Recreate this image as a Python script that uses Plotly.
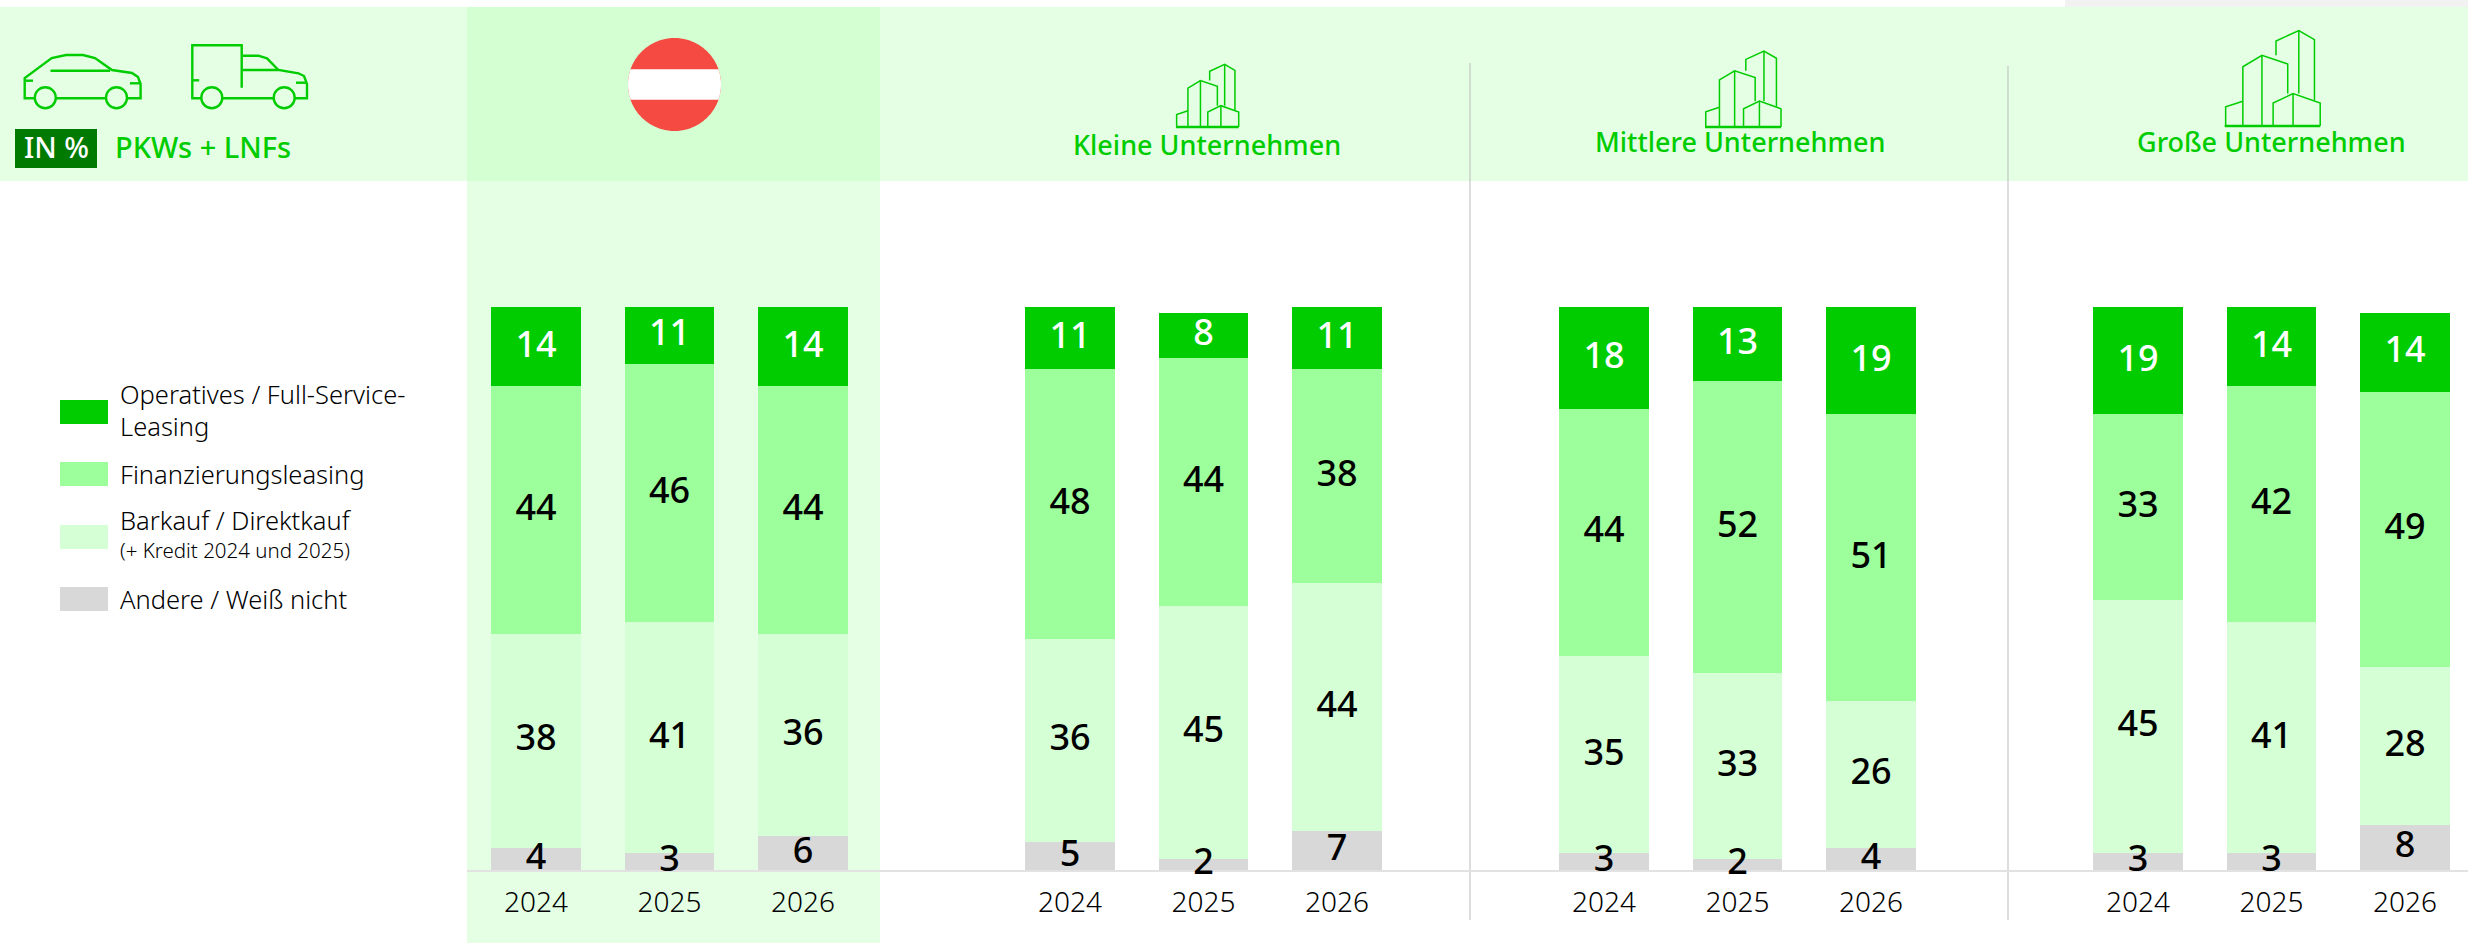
import numpy as np
import plotly.graph_objects as go

W, H = 2468, 944
BASE_Y = 870
LEFT = 467

# ---- data ----
groups = ["Österreich", "Kleine Unternehmen", "Mittlere Unternehmen", "Große Unternehmen"]
years = ["2024", "2025", "2026"]
series_names = ["Andere / Weiß nicht", "Barkauf / Direktkauf", "Finanzierungsleasing", "Operatives / Full-Service-Leasing"]

andere = [4, 3, 6, 5, 2, 7, 3, 2, 4, 3, 3, 8]
barkauf = [38, 41, 36, 36, 45, 44, 35, 33, 26, 45, 41, 28]
finanz = [44, 46, 44, 48, 44, 38, 44, 52, 51, 33, 42, 49]
# drawn height of the top segment (Austria 2025 is drawn at 10 but labelled 11)
operativ = [14, 10, 14, 11, 8, 11, 18, 13, 19, 19, 14, 14]
operativ_labels = [14, 11, 14, 11, 8, 11, 18, 13, 19, 19, 14, 14]

C_DARK, C_MID, C_LIGHT, C_GREY = "#00CC00", "#9CFF9C", "#D5FFD5", "#D8D8D8"
C_HEAD, C_HEAD2 = "#E4FFE4", "#D3FFD3"
NUM_FONT = "Noto Sans"
TXT_FONT = "Noto Sans"
LABEL_LIFT = -0.15

x_pos = [g * 4 + i for g in range(len(groups)) for i in range(len(years))]
tick_text = [y for _ in groups for y in years]


def px(x):
    return (x - LEFT) / (W - LEFT)


def py(y):
    return (BASE_Y - y) / BASE_Y


shapes, annos = [], []


def rect(x0, y0, x1, y1, color):
    shapes.append(dict(type="rect", xref="paper", yref="paper", x0=px(x0), x1=px(x1), y0=py(y1), y1=py(y0),
                       fillcolor=color, line_width=0, layer="below"))


def poly(points, color=C_DARK, width=2.4, close=False, fill=None):
    d = "M " + " L ".join(f"{px(a):.5f},{py(b):.5f}" for a, b in points) + (" Z" if close else "")
    s = dict(type="path", xref="paper", yref="paper", path=d, layer="below",
             line=dict(color=color, width=width))
    if fill:
        s["fillcolor"] = fill
        s["line"] = dict(width=0)
    shapes.append(s)


def circle(cx, cy, r, color=C_DARK, width=2.4):
    shapes.append(dict(type="circle", xref="paper", yref="paper", x0=px(cx - r), x1=px(cx + r), y0=py(cy + r), y1=py(cy - r),
                       line=dict(color=color, width=width), layer="below"))


def text(x, y, s, size, color="#000000", anchor="left", weight=300, family=TXT_FONT):
    annos.append(dict(xref="paper", yref="paper", x=px(x), y=py(y), text=s, showarrow=False, xanchor=anchor, yanchor="middle",
                      font=dict(size=size, color=color, family=family, weight=weight), borderpad=0, borderwidth=0))


# header backgrounds
rect(2065, 0, W, 7, "#F2F2F2")
rect(0, 7, W, 181, C_HEAD)
rect(467, 7, 880, 181, C_HEAD2)
rect(467, 181, 880, 943, C_HEAD)

# dividers
shapes.append(dict(type="line", xref="paper", yref="paper", x0=px(1470), x1=px(1470), y0=py(63), y1=py(920),
                   line=dict(color="#BBBBBB", width=1), layer="below"))
shapes.append(dict(type="line", xref="paper", yref="paper", x0=px(2008), x1=px(2008), y0=py(66), y1=py(920),
                   line=dict(color="#BBBBBB", width=1), layer="below"))

# flag
FCX, FCY, FR = 674.5, 84.5, 46.5
th = np.linspace(0, 2 * np.pi, 181)
poly(list(zip(FCX + FR * np.cos(th), FCY + FR * np.sin(th))), close=True, fill="#F44A42")
band = 15.2
hw = (FR ** 2 - band ** 2) ** 0.5
a = np.arctan2(band, hw)
arc_r = np.linspace(-a, a, 15)
arc_l = np.linspace(np.pi - a, np.pi + a, 15)
poly(list(zip(FCX + FR * np.cos(arc_r), FCY + FR * np.sin(arc_r))) +
     list(zip(FCX + FR * np.cos(arc_l), FCY + FR * np.sin(arc_l))), close=True, fill="#FFFFFF")

# car icon
poly([(34.5, 98.3), (24.7, 98.3), (24.7, 78), (51.7, 58), (66, 55), (83, 55), (95, 58), (112, 70), (132, 73), (138, 77), (140.6, 84), (140.6, 98.3), (127.4, 98.3)])
poly([(55.7, 98.3), (106.2, 98.3)])
poly([(50.5, 70.7), (110, 70.7)])
poly([(25, 80.7), (33, 80.7)])
poly([(130, 83.3), (140.6, 83.3)])
circle(45.3, 97.7, 10.5)
circle(116.5, 97.7, 10.5)
# van icon
poly([(201.3, 98.3), (192.3, 98.3), (192.3, 45.3), (241.7, 45.3), (241.7, 87.7)])
poly([(241.7, 55.7), (258.3, 55.7), (267, 58.3), (278.4, 70), (298.5, 73.3), (304, 76), (307, 84), (307, 98.3), (294.7, 98.3)])
poly([(241.7, 70), (278.4, 70)])
poly([(222.3, 98.3), (273.7, 98.3)])
poly([(192.3, 80.3), (199.2, 80.3)])
poly([(296, 82.7), (307, 82.7)])
circle(211.8, 97.7, 10.5)
circle(284.2, 97.7, 10.5)

# building icons
B_LINES = [
    [(0.01, 0), (0.01, .20), (0.19, .26)],
    [(.19, 0), (.19, .62), (.39, .74), (.66, .65), (.66, .34)],
    [(.39, .74), (.39, 0)],
    [(.537, .74), (.537, .89), (.776, 1.0), (.94, .904), (.94, .27)],
    [(.776, 1), (.776, .34)],
    [(.507, 0), (.507, .24), (.716, .34), (1.0, .24), (1, 0)],
    [(.716, .34), (.716, 0)],
]
for left, base, size in [(1176, 127, 62.7), (1705, 127, 76), (2224.7, 126, 95.5)]:
    for line in B_LINES:
        poly([(left + u * size, base - v * size) for u, v in line], width=1.5)
    poly([(left, base), (left + size, base)], width=2.6)

# header text
rect(15, 129, 97, 168, "#007A00")
text(56, 146, "IN %", 29, "#FFFFFF", "center", 500)
text(115, 146, "PKWs + LNFs", 29, C_DARK, "left", 500)
text(1207, 144, "Kleine Unternehmen", 27, C_DARK, "center", 500)
text(1740, 142, "Mittlere Unternehmen", 27, C_DARK, "center", 500)
text(2271, 142, "Große Unternehmen", 27, C_DARK, "center", 500)

# legend
rect(60, 400, 108, 424, C_DARK)
rect(60, 462, 108, 486, C_MID)
rect(60, 525, 108, 549, C_LIGHT)
rect(60, 587, 108, 611, C_GREY)
text(120, 394, "Operatives / Full-Service-", 25.5)
text(120, 426, "Leasing", 25.5)
text(120, 474, "Finanzierungsleasing", 25.5)
text(120, 520, "Barkauf / Direktkauf", 25.5)
text(120, 550, "(+ Kredit 2024 und 2025)", 20.5)
text(120, 599, "Andere / Weiß nicht", 25.5)

fig = go.Figure()
stack = np.zeros(len(x_pos))
rows = [(series_names[0], andere, C_GREY, andere, "#000000"),
        (series_names[1], barkauf, C_LIGHT, barkauf, "#000000"),
        (series_names[2], finanz, C_MID, finanz, "#000000"),
        (series_names[3], operativ, C_DARK, operativ_labels, "#FFFFFF")]
label_traces = []
for name, vals, col, labels, tcol in rows:
    v = np.array(vals, float)
    fig.add_trace(go.Bar(x=x_pos, y=vals, name=name, marker=dict(color=col, line_width=0), width=0.667, showlegend=False))
    label_traces.append(go.Scatter(x=x_pos, y=stack + v / 2 + LABEL_LIFT, mode="text", text=[str(l) for l in labels],
                                   textposition="middle center", showlegend=False, hoverinfo="skip", cliponaxis=False,
                                   textfont=dict(size=36, color=tcol, family=NUM_FONT, weight=500)))
    stack += v
for t in label_traces:
    fig.add_trace(t)

fig.update_layout(
    width=W, height=H, barmode="stack", margin=dict(l=LEFT, r=0, t=0, b=H - BASE_Y, pad=0),
    paper_bgcolor="#FFFFFF", plot_bgcolor="rgba(0,0,0,0)", showlegend=False,
    shapes=shapes, annotations=annos,
    xaxis=dict(range=[(LEFT - 536) / 133.5, (W - 536) / 133.5], tickvals=x_pos, ticktext=tick_text, showgrid=False, zeroline=False,
               showline=True, linecolor="#E2E2E2", linewidth=2, ticks="", ticklabelstandoff=6, layer="below traces",
               tickfont=dict(size=28, color="#000000", family=TXT_FONT, weight=300)),
    yaxis=dict(range=[0, BASE_Y / 5.626], visible=False),
)
fig.write_html("out.html", config={"displayModeBar": False}, post_script="document.body.style.margin='0';")
